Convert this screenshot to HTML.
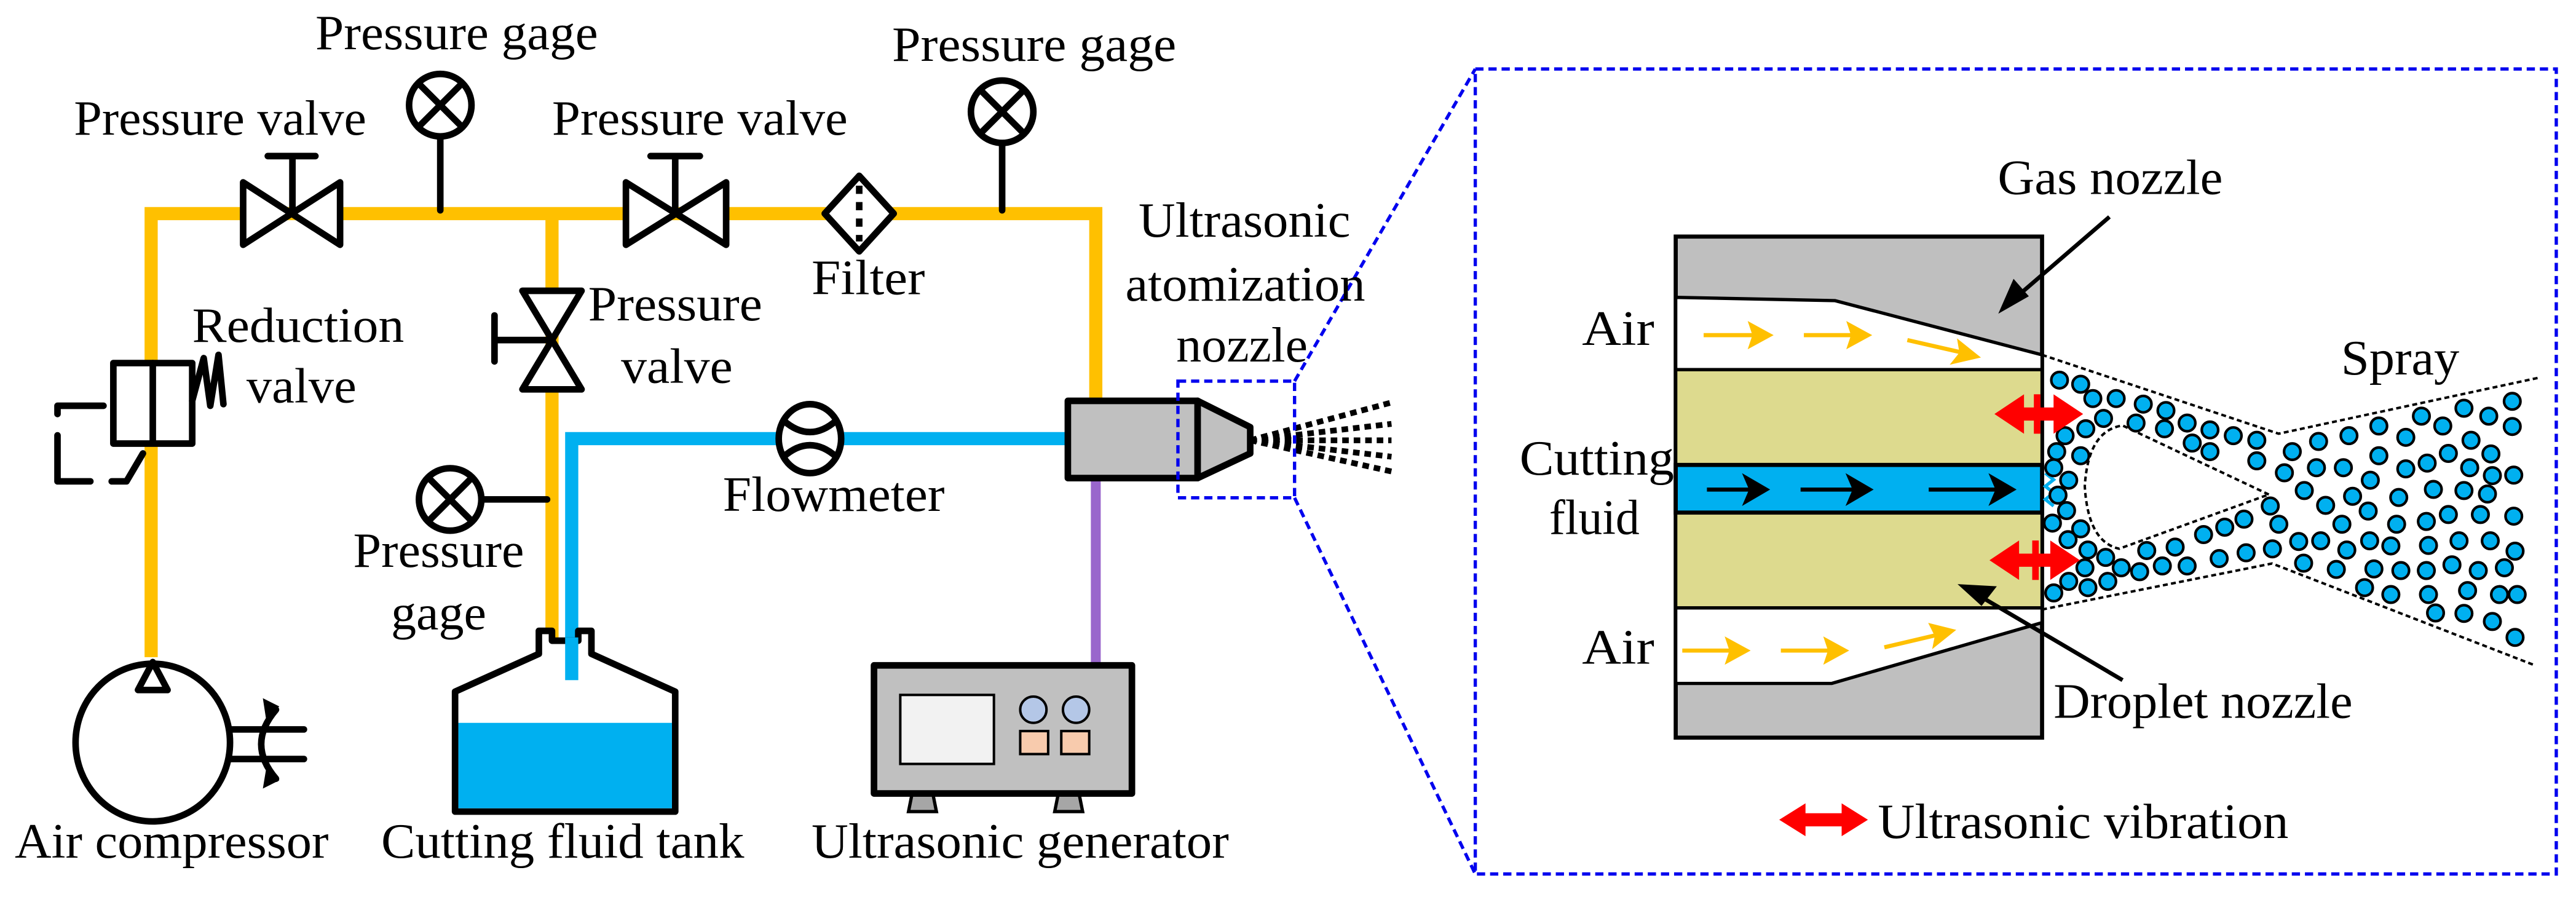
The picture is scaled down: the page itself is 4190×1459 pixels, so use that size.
<!DOCTYPE html>
<html><head><meta charset="utf-8"><style>
html,body{margin:0;padding:0;background:#fff;}
svg{display:block;}
text{font-family:"Liberation Serif","Times New Roman","DejaVu Serif",serif;font-size:30px;fill:#000;}
</style></head><body>
<svg width="4190" height="1459" viewBox="0 0 1568 546" preserveAspectRatio="none" xmlns="http://www.w3.org/2000/svg" font-family="Liberation Serif, DejaVu Serif, serif">
<g stroke="#FFC000" stroke-width="8" fill="none">
<polyline points="92,400 92,130 667,130 667,244"/>
<line x1="336" y1="130" x2="336" y2="393"/>
</g>
<polyline points="348,414 348,267 650,267" stroke="#00B0F0" stroke-width="8" fill="none"/>
<line x1="667" y1="291" x2="667" y2="405" stroke="#9966CC" stroke-width="6"/>

<g stroke="#000" stroke-width="4" fill="#fff" stroke-linejoin="round" stroke-linecap="round">
<polygon points="148,111 207,149 207,111 148,149"/>
<line x1="178" y1="130" x2="178" y2="95"/><line x1="163" y1="95" x2="192" y2="95"/>
<polygon points="381,111 442,149 442,111 381,149"/>
<line x1="411" y1="130" x2="411" y2="95"/><line x1="396" y1="95" x2="426" y2="95"/>
<polygon points="318,177 354,177 318,237 354,237"/>
<line x1="336" y1="207" x2="301" y2="207"/><line x1="301" y1="192" x2="301" y2="220"/>
<line x1="268" y1="83" x2="268" y2="128"/>
<circle cx="268" cy="64" r="19"/><line x1="255" y1="51" x2="281" y2="77"/><line x1="281" y1="51" x2="255" y2="77"/>
<line x1="610" y1="87" x2="610" y2="128"/>
<circle cx="610" cy="68" r="19"/><line x1="597" y1="55" x2="623" y2="81"/><line x1="623" y1="55" x2="597" y2="81"/>
<line x1="293" y1="304" x2="333" y2="304"/>
<circle cx="274" cy="304" r="19"/><line x1="261" y1="291" x2="287" y2="317"/><line x1="287" y1="291" x2="261" y2="317"/>
<polygon points="523,107 544,130 523,153 502,130"/>
<line x1="523" y1="113" x2="523" y2="147" stroke-dasharray="5 5" stroke-linecap="butt"/>
<ellipse cx="493" cy="267" rx="19" ry="21"/>
<path d="M477,256 Q493,270 509,256 M477,278 Q493,264 509,278" fill="none"/>
<rect x="69" y="221" width="48" height="49"/>
<line x1="93" y1="221" x2="93" y2="268"/>
<polyline points="117,244 124,218 128,247 133,216 136,246" fill="none"/>
<polyline points="63,247 35,247 35,252" fill="none"/>
<polyline points="35,265 35,293 55,293" fill="none"/>
<polyline points="68,293 77,293 87,276" fill="none"/>
<ellipse cx="93" cy="452" rx="47" ry="48"/>
<polygon points="93,403 84,420 102,420"/>
<line x1="140" y1="444" x2="185" y2="444"/><line x1="140" y1="462" x2="185" y2="462"/>
<path d="M168,432 Q150,453 168,474" fill="none"/>
<polygon points="328,384 328,398 277,421 277,494 411,494 411,421 360,398 360,384 352,384 352,390 336,390 336,384"/>
<rect x="650" y="244" width="79" height="47" fill="#C0C0C0"/>
<polygon points="729,244 761,260 761,276 729,291" fill="#C0C0C0"/>
<rect x="532" y="405" width="157" height="78" fill="#C0C0C0"/>
</g>
<polygon points="160,425 170,430 162,438" fill="#000"/>
<polygon points="160,480 170,475 162,468" fill="#000"/>
<rect x="279" y="440" width="130" height="52" fill="#00B0F0"/>
<rect x="344" y="388" width="8" height="26" fill="#00B0F0"/>
<rect x="548" y="423" width="57" height="42" fill="#F2F2F2" stroke="#000" stroke-width="1.5"/>
<ellipse cx="629" cy="432" rx="8" ry="8" fill="#B4C7E7" stroke="#000" stroke-width="1.5"/>
<ellipse cx="655" cy="432" rx="8" ry="8" fill="#B4C7E7" stroke="#000" stroke-width="1.5"/>
<rect x="621" y="445" width="17" height="14" fill="#F8CBAD" stroke="#000" stroke-width="1.5"/>
<rect x="646" y="445" width="17" height="14" fill="#F8CBAD" stroke="#000" stroke-width="1.5"/>
<polygon points="555,484 568,484 570,494 553,494" fill="#A6A6A6" stroke="#000" stroke-width="2"/>
<polygon points="644,484 657,484 659,494 642,494" fill="#A6A6A6" stroke="#000" stroke-width="2"/>
<g stroke="#000" stroke-width="3.5" stroke-dasharray="4 3">
<line x1="761" y1="268" x2="847" y2="245"/><line x1="761" y1="268" x2="847" y2="258"/>
<line x1="761" y1="268" x2="847" y2="268"/><line x1="761" y1="268" x2="847" y2="278"/>
<line x1="761" y1="268" x2="847" y2="287"/>
</g>
<g stroke="#0000EE" stroke-width="2" stroke-dasharray="5 3" fill="none">
<rect x="717" y="232" width="71" height="71"/>
<line x1="788" y1="232" x2="898" y2="42"/><line x1="788" y1="303" x2="898" y2="532"/>
<rect x="898" y="42" width="658" height="490"/>
</g>
<text x="192" y="30" textLength="172" lengthAdjust="spacingAndGlyphs">Pressure gage</text>
<text x="543" y="37" textLength="173" lengthAdjust="spacingAndGlyphs">Pressure gage</text>
<text x="45" y="82" textLength="178" lengthAdjust="spacingAndGlyphs">Pressure valve</text>
<text x="336" y="82" textLength="180" lengthAdjust="spacingAndGlyphs">Pressure valve</text>
<text x="494" y="179" textLength="69" lengthAdjust="spacingAndGlyphs">Filter</text>
<text x="358" y="195" textLength="106" lengthAdjust="spacingAndGlyphs">Pressure</text>
<text x="378" y="233" textLength="68" lengthAdjust="spacingAndGlyphs">valve</text>
<text x="117" y="208" textLength="129" lengthAdjust="spacingAndGlyphs">Reduction</text>
<text x="150" y="245" textLength="67" lengthAdjust="spacingAndGlyphs">valve</text>
<text x="215" y="345" textLength="104" lengthAdjust="spacingAndGlyphs">Pressure</text>
<text x="238" y="383" textLength="58" lengthAdjust="spacingAndGlyphs">gage</text>
<text x="440" y="311" textLength="135" lengthAdjust="spacingAndGlyphs">Flowmeter</text>
<text x="693" y="144" textLength="129" lengthAdjust="spacingAndGlyphs">Ultrasonic</text>
<text x="685" y="183" textLength="146" lengthAdjust="spacingAndGlyphs">atomization</text>
<text x="716" y="220" textLength="80" lengthAdjust="spacingAndGlyphs">nozzle</text>
<text x="9" y="522" textLength="191" lengthAdjust="spacingAndGlyphs">Air compressor</text>
<text x="232" y="522" textLength="221" lengthAdjust="spacingAndGlyphs">Cutting fluid tank</text>
<text x="494" y="522" textLength="254" lengthAdjust="spacingAndGlyphs">Ultrasonic generator</text>

<rect x="1020" y="144" width="223" height="305" fill="#BFBFBF" stroke="#000" stroke-width="2.5"/>
<polygon points="1020,181 1117,183 1243,216 1243,225 1020,225" fill="#fff" stroke="#000" stroke-width="2"/>
<polygon points="1020,370 1243,370 1243,379 1115,416 1020,416" fill="#fff" stroke="#000" stroke-width="2"/>
<rect x="1020" y="225" width="223" height="58" fill="#DDDA8E" stroke="#000" stroke-width="2"/>
<rect x="1020" y="312" width="223" height="58" fill="#DDDA8E" stroke="#000" stroke-width="2"/>
<rect x="1020" y="283" width="223" height="29" fill="#00B0F0" stroke="#000" stroke-width="2.5"/>
<polyline points="1245,288 1250,292 1245,296 1250,300 1245,304 1250,308" stroke="#00B0F0" stroke-width="2" fill="none"/>
<g stroke="#FFC000" stroke-width="2.5" fill="#FFC000">
<line x1="1037" y1="204" x2="1070" y2="204"/><polygon points="1077,204 1066,198 1068,204 1066,210" />
<line x1="1098" y1="204" x2="1130" y2="204"/><polygon points="1137,204 1126,198 1128,204 1126,210"/>
<line x1="1161" y1="207" x2="1196" y2="215"/><polygon points="1203,217 1193,209 1194,215 1190,220"/>
<line x1="1024" y1="396" x2="1056" y2="396"/><polygon points="1063,396 1052,390 1054,396 1052,402"/>
<line x1="1084" y1="396" x2="1116" y2="396"/><polygon points="1123,396 1112,390 1114,396 1112,402"/>
<line x1="1147" y1="394" x2="1181" y2="386"/><polygon points="1188,384 1176,381 1179,387 1178,392"/>
</g>
<g stroke="#000" stroke-width="2.5" fill="#000">
<line x1="1039" y1="298" x2="1068" y2="298"/><polygon points="1075,298 1063,291 1066,298 1063,305"/>
<line x1="1096" y1="298" x2="1131" y2="298"/><polygon points="1138,298 1126,291 1129,298 1126,305"/>
<line x1="1174" y1="298" x2="1218" y2="298"/><polygon points="1225,298 1213,291 1216,298 1213,305"/>
<line x1="1284" y1="132" x2="1226" y2="182"/><polygon points="1219,188 1226,172 1233,180"/>
<line x1="1292" y1="414" x2="1202" y2="361"/><polygon points="1195,357 1213,358 1206,367"/>
</g>
<g stroke="#000" stroke-width="1.5" stroke-dasharray="3 2" fill="none">
<polyline points="1243,216 1387,264 1545,230"/>
<polyline points="1243,371 1383,343 1543,405"/>
<path d="M1381,301 L1292,259 Q1271,262 1269,296 Q1271,330 1290,334 Z"/>
</g>
<g id="dots" fill="#00B0F0" stroke="#000" stroke-width="1.6"></g>
<g fill="#FF0000">
<polygon points="1214,252 1232,240 1232,248 1250,248 1250,240 1268,252 1250,264 1250,256 1232,256 1232,264"/>
<polygon points="1211,341 1229,329 1229,337 1248,337 1248,329 1266,341 1248,353 1248,345 1229,345 1229,353"/>
<polygon points="1083,499 1099,489 1099,495 1121,495 1121,489 1137,499 1121,509 1121,503 1099,503 1099,509"/>
</g>
<rect x="1238" y="240" width="4" height="24" fill="#FF0000"/>
<rect x="1237" y="329" width="4" height="24" fill="#FF0000"/>
<text x="1216" y="118" textLength="137" lengthAdjust="spacingAndGlyphs">Gas nozzle</text>
<text x="963" y="210" textLength="44" lengthAdjust="spacingAndGlyphs">Air</text>
<text x="925" y="289" textLength="94" lengthAdjust="spacingAndGlyphs">Cutting</text>
<text x="943" y="325" textLength="55" lengthAdjust="spacingAndGlyphs">fluid</text>
<text x="963" y="404" textLength="44" lengthAdjust="spacingAndGlyphs">Air</text>
<text x="1250" y="437" textLength="182" lengthAdjust="spacingAndGlyphs">Droplet nozzle</text>
<text x="1425" y="228" textLength="72" lengthAdjust="spacingAndGlyphs">Spray</text>
<text x="1143" y="510" textLength="250" lengthAdjust="spacingAndGlyphs">Ultrasonic vibration</text>
</svg>
<script>
var p=[840,665,870,672,887,697,920,697,958,707,990,718,1020,740,1052,752,1085,762,1118,770,848,762,877,750,902,732,948,740,988,750,1027,775,1052,790,1118,806,836,790,870,797,832,818,853,840,838,866,850,893,830,915,870,925,852,944,880,962,905,975,927,993,876,993,853,1017,880,1028,908,1017,832,1037,953,1000,985,990,1020,990,963,963,1003,957,1043,935,1073,922,1100,908,1065,977,1103,967,1140,960,1149,917,1137,885,1168,790,1205,772,1248,762,1290,745,1328,765,1350,728,1380,745,1410,714,1445,728,1478,702,1478,746,1420,770,1448,794,1388,793,1358,810,1328,820,1290,797,1240,818,1202,818,1157,827,1185,858,1215,884,1253,868,1278,840,1318,870,1367,856,1410,858,1443,864,1450,832,1418,818,1480,831,1480,903,1433,900,1388,900,1357,912,1315,917,1275,894,1238,917,1177,947,1208,946,1245,962,1277,946,1307,955,1360,954,1403,946,1447,946,1482,964,1467,993,1430,998,1393,988,1357,998,1321,998,1283,995,1230,996,1184,985,1270,1028,1307,1040,1360,1040,1415,1033,1460,1040,1485,1040,1370,1072,1410,1073,1450,1087,1482,1115];
var g=document.getElementById('dots'),s='';
for(var i=0;i<p.length;i+=2){var x=890.7+p[i]*0.432,y=p[i+1]*0.348;s+='<ellipse cx="'+x.toFixed(1)+'" cy="'+y.toFixed(1)+'" rx="5" ry="5"/>';}
g.innerHTML=s;
</script>
</body></html>
